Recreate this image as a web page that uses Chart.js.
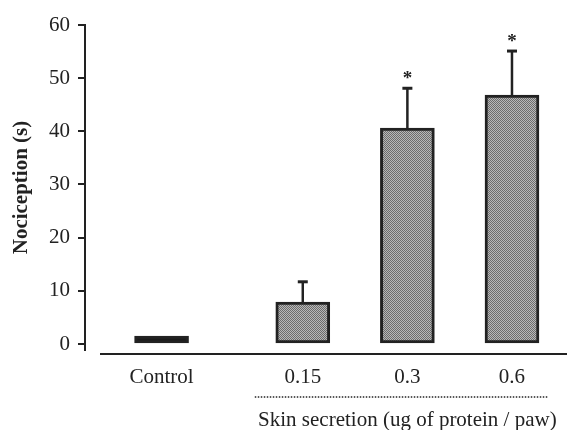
<!DOCTYPE html>
<html>
<head>
<meta charset="utf-8">
<script src="https://cdn.jsdelivr.net/npm/chart.js@4.4.0/dist/chart.umd.min.js"></script>
<style>
  html, body { margin: 0; padding: 0; background: #fff; }
</style>
</head>
<body>
<canvas id="canvas" width="570" height="430"></canvas>
<script>
	var GROUPS = ['Control', '0.15', '0.3', '0.6'];
	var NOCICEPTION = [1.5, 7.9, 40.6, 46.8];
	var SEM = [0, 3.8, 7.5, 8.3];
	var SIGNIFICANT = ['', '', '*', '*'];
	var Y_TICKS = [0, 10, 20, 30, 40, 50, 60];
	var X_TITLE = 'Skin secretion (ug of protein / paw)';
	var Y_TITLE = 'Nociception (s)';

	// where each group sits on the x scale (extra gap after Control)
	var SLOTS = [0, 1.35, 2.35, 3.35];

	var INK = '#222';
	var SERIF = '"Liberation Serif", "Times New Roman", serif';

	// fine grey dither used by the treated groups
	function dither() {
		var c = document.createElement('canvas');
		c.width = 2;
		c.height = 2;
		var g = c.getContext('2d');
		g.fillStyle = '#b8b8b8';
		g.fillRect(0, 0, 2, 2);
		g.fillStyle = '#6c6c6c';
		g.fillRect(0, 0, 1, 1);
		g.fillRect(1, 1, 1, 1);
		return g.createPattern(c, 'repeat');
	}

	var decorations = {
		id : 'decorations',
		afterDatasetsDraw : function(chart) {
			var ctx = chart.ctx, x = chart.scales.x, y = chart.scales.y;
			var meta = chart.getDatasetMeta(0);
			ctx.save();
			ctx.strokeStyle = INK;
			ctx.fillStyle = INK;

			// error bars + significance marks
			meta.data.forEach(function(bar, i) {
				if (!SEM[i]) return;
				var top = y.getPixelForValue(NOCICEPTION[i] + SEM[i]);
				ctx.lineWidth = 2.5;
				ctx.beginPath();
				ctx.moveTo(bar.x, bar.y);
				ctx.lineTo(bar.x, top);
				ctx.stroke();
				ctx.lineWidth = 3;
				ctx.beginPath();
				ctx.moveTo(bar.x - 5, top);
				ctx.lineTo(bar.x + 5, top);
				ctx.stroke();
				if (SIGNIFICANT[i]) {
					ctx.font = 'bold 19px ' + SERIF;
					ctx.textAlign = 'center';
					ctx.textBaseline = 'alphabetic';
					ctx.fillText(SIGNIFICANT[i], bar.x, top - 4);
				}
			});

			// detached x axis line
			var base = y.bottom + 4;
			ctx.lineWidth = 2;
			ctx.beginPath();
			ctx.moveTo(x.left + 15, base);
			ctx.lineTo(x.right, base);
			ctx.stroke();

			// dotted bracket under the doses + its title
			var from = x.getPixelForValue(SLOTS[1]) - 48;
			var to = x.getPixelForValue(SLOTS[3]) + 36;
			ctx.lineWidth = 1.5;
			ctx.setLineDash([1.5, 1.5]);
			ctx.beginPath();
			ctx.moveTo(from, 397);
			ctx.lineTo(to, 397);
			ctx.stroke();
			ctx.setLineDash([]);
			ctx.font = '21px ' + SERIF;
			ctx.textAlign = 'center';
			ctx.textBaseline = 'alphabetic';
			ctx.fillText(X_TITLE, x.getPixelForValue(SLOTS[2]), 426);
			ctx.restore();
		}
	};

	var pattern = dither();

	window.onload = function() {
		var ctx = document.getElementById('canvas').getContext('2d');
		window.myBar = new Chart(ctx, {
			type : 'bar',
			data : {
				datasets : [ {
					data : GROUPS.map(function(g, i) {
						return { x : SLOTS[i], y : NOCICEPTION[i] };
					}),
					backgroundColor : GROUPS.map(function(g, i) {
						return i === 0 ? '#1a1a1a' : pattern;
					}),
					borderColor : INK,
					borderWidth : 3,
					borderSkipped : false,
					barThickness : 54
				} ]
			},
			options : {
				responsive : false,
				animation : false,
				devicePixelRatio : 1,
				layout : {
					padding : { top : 25, right : 3, left : 0, bottom : 0 }
				},
				plugins : {
					legend : { display : false },
					tooltip : { enabled : false }
				},
				scales : {
					x : {
						type : 'linear',
						offset : false,
						min : -0.732,
						max : 3.876,
						grid : { display : false, drawTicks : false },
						border : { display : false },
						afterBuildTicks : function(s) {
							s.ticks = SLOTS.map(function(v) { return { value : v }; });
						},
						afterFit : function(s) { s.height = 80; },
						ticks : {
							autoSkip : false,
							maxRotation : 0,
							padding : 15,
							color : INK,
							font : { family : SERIF, size : 21 },
							callback : function(v) {
								var i = SLOTS.indexOf(v);
								return i < 0 ? '' : GROUPS[i];
							}
						}
					},
					y : {
						min : -1.13,
						max : 60,
						afterBuildTicks : function(s) {
							s.ticks = Y_TICKS.map(function(v) { return { value : v }; });
						},
						afterFit : function(s) { s.width = 85; },
						grid : {
							drawOnChartArea : false,
							drawTicks : true,
							tickLength : 7,
							color : INK,
							lineWidth : 2
						},
						border : { display : true, color : INK, width : 2 },
						ticks : {
							padding : 8,
							color : INK,
							font : { family : SERIF, size : 21 }
						},
						title : {
							display : true,
							text : Y_TITLE,
							color : INK,
							padding : { top : 9, bottom : 0 },
							font : { family : SERIF, size : 21, weight : 'bold' }
						}
					}
				}
			},
			plugins : [ decorations ]
		});
	};
</script>
</body>
</html>
